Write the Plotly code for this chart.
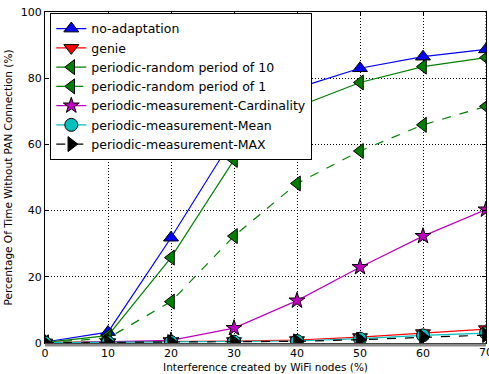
import plotly.graph_objects as go

interference = [0, 10, 20, 30, 40, 50, 60, 70]

no_adaptation = [0.3, 3.3, 31.8, 62.3, 77.0, 83.0, 86.5, 88.7]
genie = [0.2, 0.3, 0.4, 0.6, 0.9, 1.8, 3.0, 4.2]
periodic_random_10 = [0.2, 2.2, 25.8, 55.3, 71.3, 78.7, 83.5, 86.2]
periodic_random_1 = [0.1, 1.5, 12.5, 32.3, 48.2, 58.0, 65.9, 71.5]
meas_cardinality = [0.0, 0.3, 0.8, 4.5, 12.8, 22.9, 32.3, 40.3]
meas_mean = [0.1, 0.2, 0.3, 0.4, 0.6, 1.3, 2.3, 3.0]
meas_max = [0.1, 0.2, 0.3, 0.4, 0.5, 1.0, 1.8, 2.4]

series = [
    ("no-adaptation", no_adaptation, "#0000ff", "solid", "triangle-up", 13),
    ("genie", genie, "#ff0000", "solid", "triangle-down", 13),
    ("periodic-random period of 10", periodic_random_10, "#008000", "solid", "triangle-left", 13),
    ("periodic-random period of 1", periodic_random_1, "#008000", "dash", "triangle-left", 13),
    ("periodic-measurement-Cardinality", meas_cardinality, "#bf00bf", "solid", "star", 12),
    ("periodic-measurement-Mean", meas_mean, "#00bfbf", "solid", "circle", 13),
    ("periodic-measurement-MAX", meas_max, "#000000", "dash", "triangle-right", 13),
]

fig = go.Figure()
for name, vals, color, dash, symbol, size in series:
    fig.add_trace(go.Scatter(
        x=interference, y=vals, name=name, mode="lines+markers",
        line=dict(color=color, width=1.2, dash=dash),
        marker=dict(symbol=symbol, size=size, color=color,
                    line=dict(color="black", width=1)),
    ))

font = dict(family="DejaVu Sans", size=11, color="black")
grid = dict(showgrid=True, gridcolor="black", griddash="1px,2px", gridwidth=1,
            zeroline=False, showline=True, linecolor="black", linewidth=1,
            mirror="ticks", ticks="inside", ticklen=4, tickcolor="black",
            tickfont=font)

xticks = [0, 10, 20, 30, 40, 50, 60, 70]
fig.update_xaxes(range=[0, 70], tickvals=xticks[:-1],
                 title=dict(text="Interference created by WiFi nodes (%)",
                            font=dict(family="DejaVu Sans", size=10.5), standoff=4),
                 **grid)
fig.update_yaxes(range=[0, 100], tickvals=[0, 20, 40, 60, 80, 100],
                 title=dict(text="Percentage Of Time Without PAN Connection (%)",
                            font=dict(family="DejaVu Sans", size=10.5), standoff=6),
                 **grid)

# last x tick sits on the page edge, so its label is placed by hand
fig.add_annotation(x=xticks[-1], xref="x", y=0, yref="paper", yanchor="top",
                   text=str(xticks[-1]), showarrow=False, yshift=-1,
                   font=font)
fig.add_shape(type="line", xref="x", yref="paper", x0=xticks[-1], x1=xticks[-1],
              y0=0, y1=1, line=dict(color="black", width=1, dash="1px,2px"))

# heavy grey base line under the plot area
fig.add_shape(type="line", xref="paper", yref="paper", x0=0, x1=1, y0=-0.006, y1=-0.006,
              line=dict(color="#888888", width=3))

fig.update_layout(
    width=489, height=374,
    margin=dict(l=45, r=2, t=12, b=29),
    paper_bgcolor="white", plot_bgcolor="white",
    font=font,
    showlegend=True,
    legend=dict(x=0.012, y=0.997, xanchor="left", yanchor="top",
                bgcolor="white", bordercolor="black", borderwidth=1,
                font=dict(family="DejaVu Sans", size=12.5), tracegroupgap=0,
                itemwidth=30),
)

fig.write_html("out.html")
